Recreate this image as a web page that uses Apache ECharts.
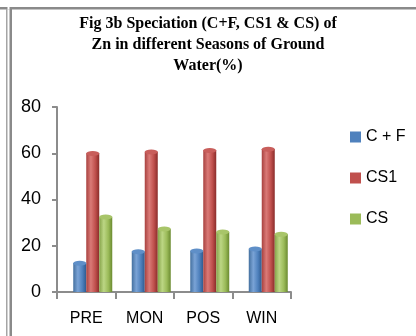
<!DOCTYPE html>
<html>
<head>
<meta charset="utf-8">
<script src="https://cdn.jsdelivr.net/npm/echarts@6/dist/echarts.min.js"></script>
<style>html,body{margin:0;padding:0;background:#fff;}#c{width:416px;height:336px;}</style>
</head>
<body>
<div id="c"></div>
<script>
var titleText = 'Fig 3b Speciation (C+F, CS1 & CS) of\nZn in different Seasons of Ground\nWater(%)';
var categories = ['PRE', 'MON', 'POS', 'WIN'];
var seriesNames = ['C + F', 'CS1', 'CS'];
var valuesCF = [12.5, 17.5, 17.8, 18.7];
var valuesCS1 = [60, 60.6, 61.3, 61.8];
var valuesCS = [32.5, 27.3, 26, 25];
var yTicks = [0, 20, 40, 60, 80];

var palettes = [
  {base:'#4F81BD', light:'#7AA3D6', dark:'#2E5A8F', edge:'#44709F', top:'#5F8FC8'},
  {base:'#C0504D', light:'#DA7A77', dark:'#8A2C2A', edge:'#A8413F', top:'#C85E5B'},
  {base:'#9BBB59', light:'#BCD684', dark:'#6A8A30', edge:'#86A44A', top:'#A8C569'}
];
function grad(p){
  return new echarts.graphic.LinearGradient(0,0,1,0,[
    {offset:0, color:p.edge},
    {offset:0.35, color:p.light},
    {offset:0.7, color:p.base},
    {offset:1, color:p.dark}
  ]);
}
var dataSets = [valuesCF, valuesCS1, valuesCS];
var series = [{
  name:'spacer', type:'bar', barWidth:13, barGap:0,
  data: categories.map(function(){return '-';}),
  itemStyle:{color:'transparent'}, silent:true
}];
dataSets.forEach(function(d,i){
  series.push({
    name: seriesNames[i], type:'bar', barWidth:13, barGap:0,
    data: d, itemStyle:{color: grad(palettes[i])}, z:2
  });
});
dataSets.forEach(function(d,i){
  series.push({
    name: seriesNames[i] + ' top', type:'pictorialBar',
    symbol:'circle', symbolSize:[13,5], symbolPosition:'end',
    symbolOffset:[(i - 0.5) * 13, '-50%'],
    data: d, z:3, silent:true,
    itemStyle:{color: palettes[i].top, borderColor: palettes[i].dark, borderWidth:0.6}
  });
});

var chart = echarts.init(document.getElementById('c'), null, {renderer:'canvas'});
chart.setOption({
  animation:false,
  backgroundColor:'#fff',
  title:{
    text:titleText, left:203, top:8, textAlign:'center',
    textStyle:{fontFamily:'Liberation Serif', fontWeight:'bold', fontSize:16, lineHeight:21, color:'#000'}
  },
  legend:{
    data: seriesNames.map(function(n,i){return {name:n, itemStyle:{color:palettes[i].base}};}),
    orient:'vertical', left:345, top:124,
    icon:'rect', itemWidth:11, itemHeight:11, itemGap:25,
    textStyle:{fontFamily:'Liberation Sans', fontSize:16, color:'#000'}
  },
  grid:{left:57, top:107, width:234, height:185},
  xAxis:{
    type:'category', data:categories, boundaryGap:true,
    axisLine:{lineStyle:{color:'#8C8C8C', width:2}},
    axisTick:{show:true, interval:0, length:7, lineStyle:{color:'#8C8C8C', width:2}},
    axisLabel:{fontFamily:'Liberation Sans', fontSize:16, color:'#000', margin:19}
  },
  yAxis:{
    type:'value', min:yTicks[0], max:yTicks[yTicks.length-1], interval:yTicks[1]-yTicks[0],
    splitLine:{show:false},
    axisLine:{show:true, lineStyle:{color:'#8C8C8C', width:2}},
    axisTick:{show:true, length:5, lineStyle:{color:'#8C8C8C', width:2}},
    axisLabel:{fontFamily:'Liberation Sans', fontSize:18, color:'#000', margin:16}
  },
  graphic:[
    {type:'rect', shape:{x:0, y:7, width:416, height:2.5}, style:{fill:'#8A8A8A'}},
    {type:'rect', shape:{x:6, y:9, width:1.5, height:327}, style:{fill:'#A5A5A5'}},
    {type:'rect', shape:{x:9.5, y:7, width:2.5, height:329}, style:{fill:'#8A8A8A'}},
    {type:'rect', shape:{x:7.5, y:7, width:2, height:2.5}, style:{fill:'#fff'}}
  ],
  series: series
});
</script>
</body>
</html>
